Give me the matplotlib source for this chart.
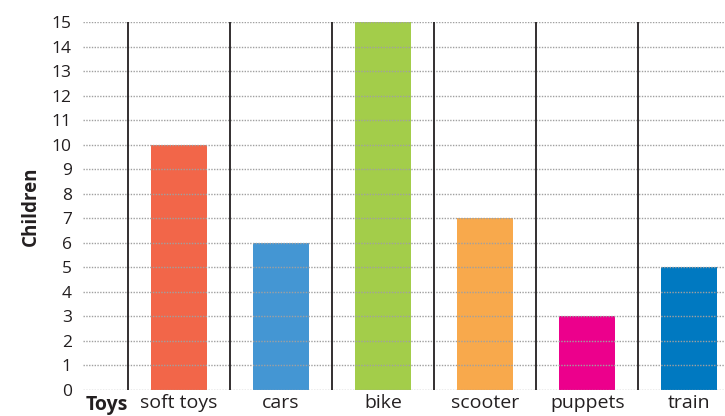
import matplotlib
matplotlib.use("Agg")
import matplotlib.pyplot as plt

toys = ["soft toys", "cars", "bike", "scooter", "puppets", "train"]
children = [10, 6, 15, 7, 3, 5]
colors = ["#f26649", "#4496d3", "#a3cd4a", "#f8a94c", "#ec008c", "#0079c1"]
yticks = list(range(0, 16))

plt.rcParams['font.family'] = ['Open Sans', 'DejaVu Sans']

fig = plt.figure(figsize=(7.25, 4.16), dpi=100)
ax = fig.add_axes([0.1145, 0.0625, 0.8855, 0.8845])

x = list(range(len(toys)))
ax.bar(x, children, width=0.55, color=colors, zorder=1)

# horizontal dotted grid, drawn over the bars
for v in yticks:
    ax.axhline(v, color="#a0a0a0", lw=1.0, ls=(0, (1, 1)), zorder=2)

# black separators between categories
for k in range(len(toys)):
    ax.plot([k - 0.5, k - 0.5], [0, 15], color="#231f20", lw=1.3, zorder=3)

ax.set_xlim(-0.94, 5.35)
ax.set_ylim(0, 15)
ax.set_yticks(yticks)
ax.set_yticklabels([str(v) for v in yticks], fontsize=12.5, color="#231f20")
ax.set_xticks(x)
ax.set_xticklabels(toys, fontsize=14, color="#231f20")
ax.tick_params(length=0, axis="y", pad=8)
ax.tick_params(length=0, axis="x", pad=3)
for s in ax.spines.values():
    s.set_visible(False)

ax.set_ylabel("Children", fontsize=13.5, fontweight="bold", color="#231f20", labelpad=8)
fig.text(107 / 725, 1 - 405 / 416, "Toys", fontsize=14, fontweight="bold",
         color="#231f20", ha="center", va="center")

fig.savefig("out.png", dpi=100)
